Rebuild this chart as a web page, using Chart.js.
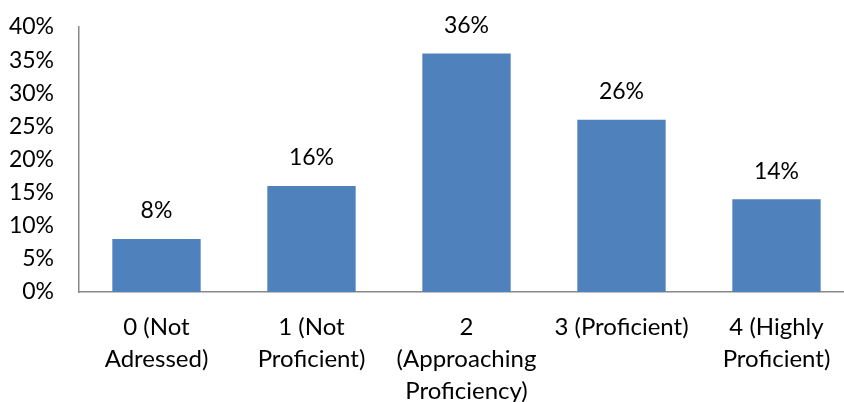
<!DOCTYPE html>
<html>
<head>
<meta charset="utf-8">
<script src="https://cdn.jsdelivr.net/npm/chart.js@4"></script>
<style>
  html, body { margin: 0; padding: 0; background: #fff; overflow: hidden; }
  #wrap { width: 854px; height: 402px; }
</style>
</head>
<body>
<div id="wrap"><canvas id="chart"></canvas></div>
<script>
const categories = [
  ['0 (Not', 'Adressed)'],
  ['1 (Not', 'Proficient)'],
  ['2', '(Approaching', 'Proficiency)'],
  ['3 (Proficient)'],
  ['4 (Highly', 'Proficient)']
];
const percents = [8, 16, 36, 26, 14];
const yTicks = [0, 5, 10, 15, 20, 25, 30, 35, 40];

const FONT = 'Lato, "Liberation Sans", sans-serif';

// writes the value above each bar
const valueLabels = {
  id: 'valueLabels',
  afterDatasetsDraw(chart) {
    const ctx = chart.ctx;
    const meta = chart.getDatasetMeta(0);
    ctx.save();
    ctx.font = '23px ' + FONT;
    ctx.fillStyle = '#000';
    ctx.textAlign = 'center';
    ctx.textBaseline = 'middle';
    meta.data.forEach((bar, i) => {
      ctx.fillText(percents[i] + '%', bar.x, bar.y - 28);
    });
    ctx.restore();
  }
};

new Chart(document.getElementById('chart'), {
  type: 'bar',
  data: {
    labels: categories,
    datasets: [{
      data: percents,
      backgroundColor: '#4F81BD',
      borderWidth: 0,
      categoryPercentage: 1,
      barPercentage: 0.57
    }]
  },
  options: {
    responsive: true,
    maintainAspectRatio: false,
    animation: false,
    layout: { padding: { top: 27, left: 0, right: 0, bottom: 0 } },
    plugins: {
      legend: { display: false },
      tooltip: { enabled: false }
    },
    scales: {
      x: {
        grid: { display: false, drawTicks: false },
        border: { color: '#888', width: 1.5 },
        ticks: {
          color: '#000',
          font: { family: FONT, size: 24, lineHeight: 1.34 },
          padding: 19,
          maxRotation: 0,
          autoSkip: false
        },
        afterFit(scale) { scale.height = 110; }
      },
      y: {
        min: 0,
        max: 40,
        afterBuildTicks(scale) { scale.ticks = yTicks.map(v => ({ value: v })); },
        grid: { display: false, drawTicks: false },
        border: { color: '#888', width: 1.5 },
        ticks: {
          color: '#000',
          font: { family: FONT, size: 23 },
          padding: 25,
          autoSkip: false,
          callback: v => v + '%'
        },
        afterFit(scale) {
          // the tick padding is horizontal here; don't let it push the plot down
          scale.width = 79;
          scale.paddingTop = 0;
          scale.paddingBottom = 0;
        }
      }
    }
  },
  plugins: [valueLabels]
});
</script>
</body>
</html>
